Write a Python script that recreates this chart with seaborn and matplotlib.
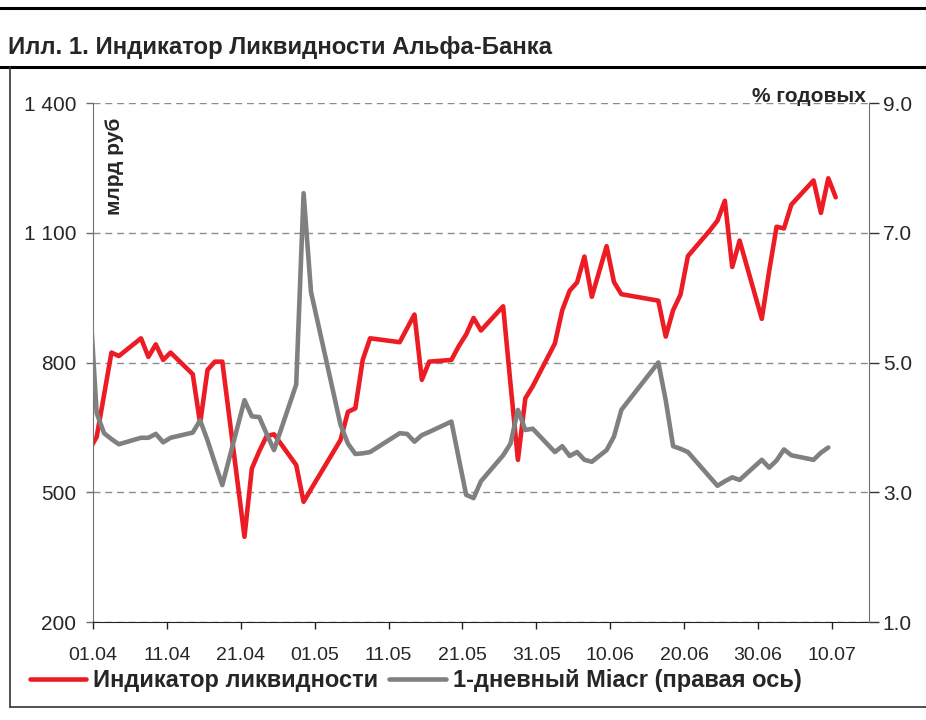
import pandas as pd
import matplotlib
matplotlib.use("Agg")
import matplotlib.pyplot as plt
from matplotlib.lines import Line2D
import seaborn as sns

# ---------------------------- данные ---------------------------------------
dates = ["31.03", "01.04", "02.04", "03.04", "04.04", "07.04", "08.04", "09.04", "10.04", "11.04",
         "14.04", "15.04", "16.04", "17.04", "18.04", "21.04", "22.04", "23.04", "24.04", "25.04",
         "28.04", "29.04", "30.04", "04.05", "05.05", "06.05", "07.05", "08.05", "12.05", "13.05",
         "14.05", "15.05", "16.05", "19.05", "20.05", "21.05", "22.05", "23.05", "26.05", "27.05",
         "28.05", "29.05", "30.05", "02.06", "03.06", "04.06", "05.06", "06.06", "07.06", "09.06",
         "10.06", "11.06", "16.06", "17.06", "18.06", "19.06", "20.06", "23.06", "24.06", "25.06",
         "26.06", "27.06", "30.06", "01.07", "02.07", "03.07", "04.07", "07.07", "08.07", "09.07",
         "10.07"]

liquidity = [598, 628, 725, 823, 815, 856, 813, 842, 806, 823,
             773, 659, 783, 802, 802, 397, 555, 595, 630, 634,
             563, 478, 507, 621, 686, 694, 806, 856, 847, 879,
             911, 760, 802, 806, 838, 865, 903, 874, 930, 750,
             575, 717, 745, 844, 921, 966, 985, 1045, 952, 1069,
             986, 958, 943, 860, 921, 957, 1046, 1106, 1128, 1174,
             1021, 1082, 901, 1012, 1114, 1110, 1165, 1221, 1146, 1226,
             1182]

miacr = [6.1, 4.22, 3.91, 3.82, 3.74, 3.84, 3.84, 3.90, 3.77, 3.84,
         3.92, 4.11, 3.80, 3.45, 3.11, 4.42, 4.17, 4.16, 3.90, 3.65,
         4.66, 7.61, 6.09, 4.04, 3.75, 3.59, 3.60, 3.62, 3.91, 3.90,
         3.78, 3.88, 3.93, 4.09, 3.52, 2.96, 2.91, 3.17, 3.57, 3.75,
         4.27, 3.96, 3.98, 3.62, 3.71, 3.56, 3.62, 3.50, 3.47, 3.65,
         3.86, 4.27, 5.00, 4.42, 3.71, 3.67, 3.62, 3.23, 3.10, 3.17,
         3.23, 3.19, 3.50, 3.38, 3.49, 3.66, 3.57, 3.50, 3.61, 3.69,
         None]

left_ticks = [200, 500, 800, 1100, 1400]
left_labels = ["200", "500", "800", "1 100", "1 400"]
right_ticks = [1.0, 3.0, 5.0, 7.0, 9.0]
x_tick_labels = ["01.04", "11.04", "21.04", "01.05", "11.05", "21.05",
                 "31.05", "10.06", "20.06", "30.06", "10.07"]

start = pd.Timestamp("2008-04-01")
df = pd.DataFrame({
    "date": pd.to_datetime([d + ".2008" for d in dates], format="%d.%m.%Y"),
    "liq": liquidity,
    "miacr": pd.to_numeric(pd.Series(miacr), errors="coerce"),
})
# точки стоят в середине дня, как в Excel
df["day"] = (df["date"] - start).dt.days + 0.5
x_ticks = [(pd.to_datetime(t + ".2008", format="%d.%m.%Y") - start).days for t in x_tick_labels]

# ---------------------------- график ----------------------------------------
sns.set_style("white")
plt.rcParams["font.family"] = ["Liberation Sans", "DejaVu Sans"]

RED = "#ED1C24"
GREY = "#808080"

fig = plt.figure(figsize=(9.26, 7.2), dpi=100)
ax = fig.add_axes([0.1004, 0.1361, 0.838, 0.7208])
ax2 = ax.twinx()

sns.lineplot(data=df, x="day", y="liq", ax=ax, color=RED, linewidth=3.3, label="Индикатор ликвидности")
sns.lineplot(data=df.dropna(subset=["miacr"]), x="day", y="miacr", ax=ax2, color=GREY,
             linewidth=3.3, label="1-дневный Miacr (правая ось)")

ax.set_xlim(0, 105)
ax.set_ylim(200, 1400)
ax2.set_ylim(1, 9)

ax.set_yticks(left_ticks)
ax.set_yticklabels(left_labels)
ax2.set_yticks(right_ticks)
ax2.set_yticklabels([f"{v:.1f}" for v in right_ticks])
ax.set_xticks(x_ticks)
ax.set_xticklabels(x_tick_labels)

for a in (ax, ax2):
    a.set_xlabel("")
    a.set_ylabel("")
    a.spines["top"].set_visible(False)
    if a.get_legend() is not None:
        a.get_legend().remove()

ax.yaxis.grid(True, linestyle=(0, (5, 3.5)), color="#8c8c8c", linewidth=1.0)
ax.set_axisbelow(True)

ax.spines["left"].set_color("#6e6e6e")
ax.spines["bottom"].set_color("#222222")
ax2.spines["right"].set_color("#6e6e6e")
ax2.spines["left"].set_visible(False)
ax2.spines["bottom"].set_visible(False)
ax.spines["right"].set_visible(False)

ax.tick_params(axis="y", left=True, direction="out", length=5, width=1, color="#6e6e6e",
               labelsize=15, pad=7)
ax.tick_params(axis="x", bottom=True, direction="out", length=5, width=1, color="#222222",
               labelsize=14, pad=13)
ax2.tick_params(axis="y", right=True, direction="out", length=7, width=1, color="#333333",
                labelsize=15, pad=3)

# подписи осей внутри поля графика
fig.text(0.124, 0.836, "млрд руб", rotation=90, ha="center", va="top",
         fontsize=15, fontweight="bold")
fig.text(0.935, 0.866, "% годовых", ha="right", va="center", fontsize=15, fontweight="bold")

# заголовок и рамки
fig.text(0.0086, 0.934, "Илл. 1. Индикатор Ликвидности Альфа-Банка", ha="left", va="center",
         fontsize=17.3, fontweight="bold")
fig.add_artist(Line2D([0, 1], [0.989, 0.989], transform=fig.transFigure, color="black", linewidth=2.2))
fig.add_artist(Line2D([0, 1], [0.907, 0.907], transform=fig.transFigure, color="black", linewidth=2.2))
fig.add_artist(Line2D([0.0108, 0.0108], [0.907, 0.018], transform=fig.transFigure, color="#333333", linewidth=1.2))
fig.add_artist(Line2D([0.0108, 1], [0.018, 0.018], transform=fig.transFigure, color="#333333", linewidth=1.2))

# легенда
handles = [Line2D([], [], color=RED, linewidth=3.3), Line2D([], [], color=GREY, linewidth=3.3)]
fig.legend(handles, ["Индикатор ликвидности", "1-дневный Miacr (правая ось)"],
           loc="center left", bbox_to_anchor=(0.032, 0.055), ncol=2, frameon=False,
           prop={"weight": "bold", "size": 17}, handlelength=2.4, handletextpad=0.3,
           columnspacing=0.45, borderpad=0, borderaxespad=0)

fig.savefig("out.png", dpi=100)
